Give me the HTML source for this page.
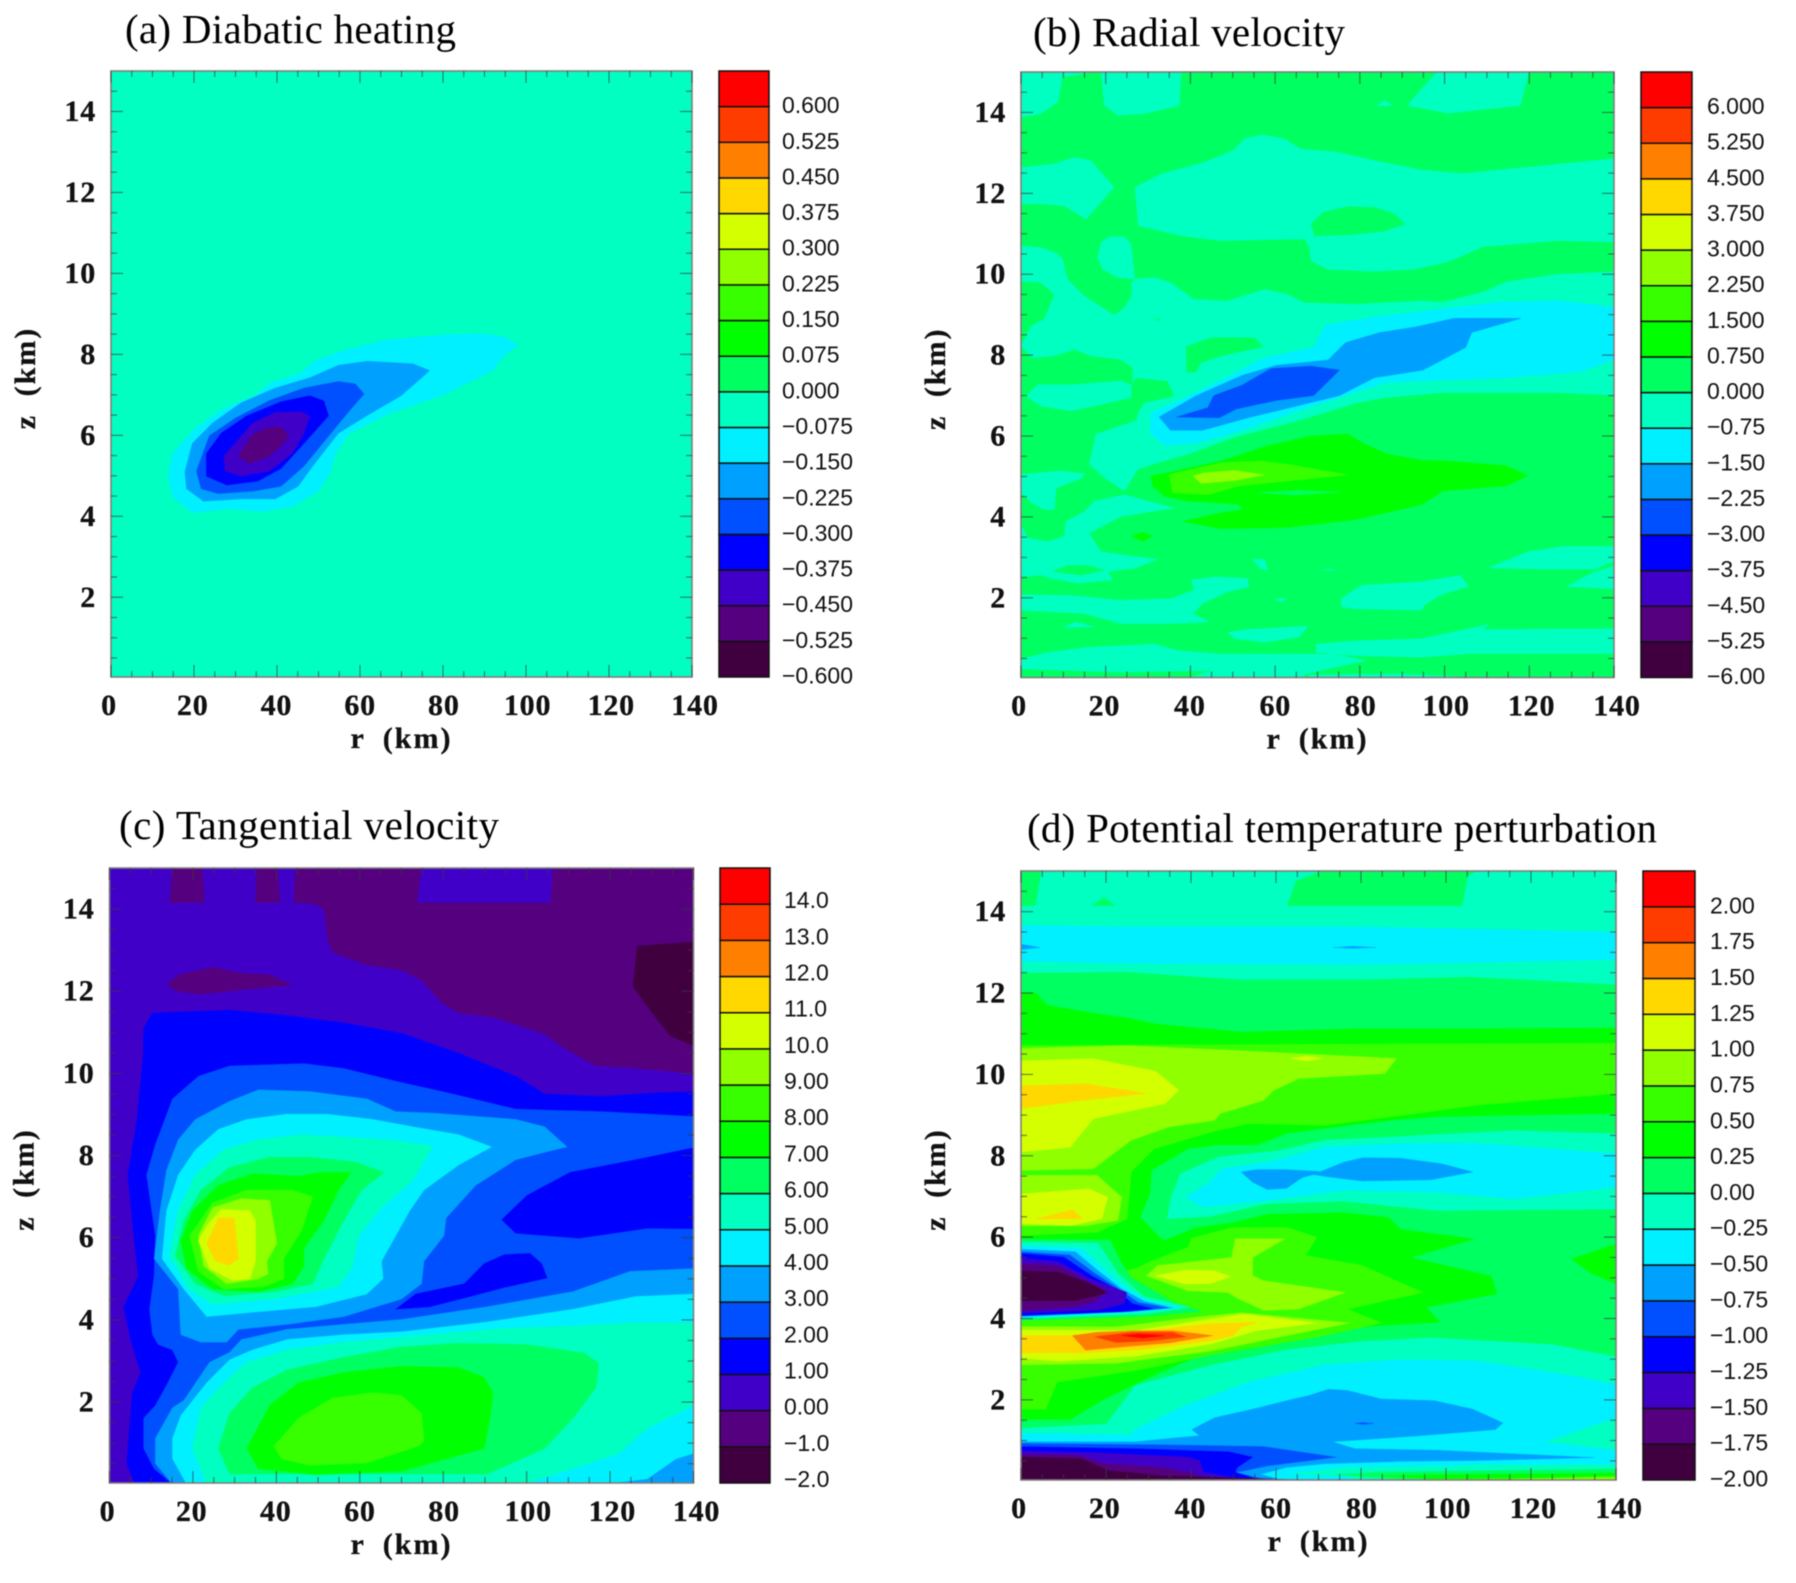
<!DOCTYPE html>
<html lang="en">
<head>
<meta charset="utf-8">
<title>Diabatic heating, radial velocity, tangential velocity and potential temperature perturbation</title>
<style>
html,body{margin:0;padding:0;background:#fff;}
svg{display:block;filter:blur(0.45px);}
.title{font-family:"Liberation Serif",serif;font-size:41px;fill:#000;}
.tick{font-family:"Liberation Serif",serif;font-weight:bold;font-size:30px;fill:#111;stroke:#111;stroke-width:.3px;letter-spacing:.8px;}
.axis{font-family:"Liberation Serif",serif;font-weight:bold;font-size:30px;fill:#111;stroke:#111;stroke-width:.3px;letter-spacing:2px;word-spacing:8px;}
.cb{font-family:"Liberation Sans",sans-serif;font-size:23px;fill:#111;}
</style>
</head>
<body>
<svg id="fig" xmlns="http://www.w3.org/2000/svg" width="1796" height="1583" viewBox="0 0 1796 1583">
<rect x="0" y="0" width="1796" height="1583" fill="#fff"/>
<text class="title" x="125" y="43" textLength="331" lengthAdjust="spacing">(a) Diabatic heating</text>
<text class="title" x="1033" y="46" textLength="312" lengthAdjust="spacing">(b) Radial velocity</text>
<text class="title" x="119" y="839" textLength="380" lengthAdjust="spacing">(c) Tangential velocity</text>
<text class="title" x="1027" y="842" textLength="630" lengthAdjust="spacing">(d) Potential temperature perturbation</text>
</svg>
<script>
// Shared axes
const rTicks = [0, 20, 40, 60, 80, 100, 120, 140];
const zTicks = [2, 4, 6, 8, 10, 12, 14];
const rMin = 0, rMax = 140, zMin = 0.03, zMax = 15;

// Colour of each contour band, lowest band first
const bandColors = ['#400040','#55007f','#4000c8','#0000ff','#0050ff','#00a0ff','#00f0ff','#00ffc0','#00ff60','#00ff00','#38ff00','#90ff00','#d4ff00','#ffd800','#ff8000','#ff3c00','#ff0000'];

// Panel (a) Diabatic heating
const aLevels = [-0.6,-0.525,-0.45,-0.375,-0.3,-0.225,-0.15,-0.075,0,0.075,0.15,0.225,0.3,0.375,0.45,0.525,0.6];
const aLabels = ['\u22120.600','\u22120.525','\u22120.450','\u22120.375','\u22120.300','\u22120.225','\u22120.150','\u22120.075','0.000','0.075','0.150','0.225','0.300','0.375','0.450','0.525','0.600'];
const aBase = -0.075;
const aRegions = [
[-0.15,[98.2,8.23,94.8,8.44,89.2,8.51,79.6,8.48,65.8,8.35,56.1,8.1,49.2,7.85,45.8,7.54,38.2,7.29,34.8,6.98,27.2,6.67,20.3,6.17,14.8,5.55,13.8,4.99,14.8,4.49,19.6,4.09,28.6,4.18,36.8,4.12,43.7,4.24,49.9,4.62,52.7,5.05,54.1,5.55,57.5,6.05,67.2,6.55,79.6,6.98,92,7.6,94.8,7.98]],
[-0.225,[76.8,7.6,72.7,7.77,61.7,7.83,54.8,7.73,47.9,7.42,39.6,7.17,31.3,6.8,24.4,6.3,19.6,5.8,17.8,5.1,18.2,4.68,22.3,4.37,31.3,4.43,39.6,4.43,45.1,4.74,48.6,5.24,54.8,6.05,61.7,6.49,69.9,6.98]],
[-0.3,[61,7.02,58.9,7.27,54.8,7.33,46.5,7.17,38.2,6.86,29.9,6.42,23.7,5.99,20.6,5.12,21.7,4.68,25.8,4.56,34.1,4.62,41,4.74,46.5,5.24,52,5.93,57.5,6.61]],
[-0.375,[52.4,6.48,51.3,6.85,47.9,6.98,41,6.83,32.7,6.48,26.5,6.05,23,5.55,23,4.99,27.9,4.77,35.4,4.87,41,5.18,46.5,5.8]],
[-0.45,[47.9,6.48,45.8,6.58,39.6,6.57,34.1,6.3,27.2,5.49,27.5,5.12,31.3,4.99,38.2,5.12,43.7,5.55,46.5,6.05]],
[-0.525,[42.8,5.99,41,6.2,38.2,6.2,34.1,6.02,30.6,5.49,33.4,5.3,38.2,5.49,41,5.74]]
];

// Panel (b) Radial velocity
const bLevels = [-6,-5.25,-4.5,-3.75,-3,-2.25,-1.5,-0.75,0,0.75,1.5,2.25,3,3.75,4.5,5.25,6];
const bLabels = ['\u22126.00','\u22125.25','\u22124.50','\u22123.75','\u22123.00','\u22122.25','\u22121.50','\u22120.75','0.000','0.750','1.500','2.250','3.000','3.750','4.500','5.250','6.000'];
const bBase = 0;
const bRegions = [
[-0.75,[0,15,17.3,15,9.8,14.88,8.7,14.26,4.7,13.97,0,13.88]],
[-0.75,[18.9,15,37.8,15,37.4,14.17,29.1,13.97,22.8,13.93,19.7,14.17]],
[-0.75,[98.2,15,119.9,15,117.9,14.17,100.9,13.98,91.2,14.17,94.2,14.54]],
[-0.75,[83.9,14.16,85.8,14.3,87.8,14.17]],
[-0.75,[0,12.64,7.9,12.73,12.6,12.89,16.5,12.81,22,12.15,15.4,11.36,10.2,11.69,4.7,11.74,0,11.74]],
[-0.75,[26.9,12.15,33.1,12.48,43.3,12.77,50,13.06,52.8,13.35,56.7,13.45,62.2,13.35,66.1,13.1,74.8,13.02,83.5,12.81,94.5,12.58,104.3,12.49,140,12.86,140,10.8,126.7,10.83,109.1,10.68,100.9,10.31,92.8,10.12,83.5,10.07,72.4,10.12,68.5,10.33,68,10.7,66.9,10.87,47.2,10.83,37.8,10.95,27.7,11.2]],
[0,[68.5,11.24,71.3,11.53,77.2,11.67,83.5,11.65,88.2,11.49,90.7,11.24,85.8,11.07,77.2,10.97,69.3,10.95]],
[-0.75,[18.1,10.41,18.9,10.79,20.9,10.93,24.4,10.93,26,10.74,26.9,9.88,22.8,9.92,19.3,10.12]],
[-0.75,[0,10.7,4.7,10.66,8.7,10.5,9.8,10.37,11,9.88,15,9.46,22,8.99,24.4,9.17,26.1,9.46,26.1,9.81,27.2,9.89,31.5,9.92,35.4,9.79,40.9,9.38,48.8,9.34,53.5,9.5,57.5,9.63,63,9.5,66.9,9.3,78.7,9.26,94.5,9.34,99.6,9.31,109.1,9.56,114.5,9.81,126.7,10,140,10.06,140,7.01,126.7,7.07,99.6,7.07,86.1,6.95,79.3,6.82,65.4,6.38,50.4,5.97,39.4,5.55,32.3,5.34,27.6,5.18,24.4,4.64,19.7,4.97,16.1,5.3,17.7,6.05,27.2,6.38,27.7,6.57,29.1,6.82,36.2,6.98,34.6,7.36,27.2,7.44,26.4,7.31,26.4,7.69,23.6,7.89,16.5,7.98,12.6,8.14,7.9,7.98,2.8,7.93,0,8.22,2.4,8.72,5.5,8.89,7.9,9.5,4.7,9.79,0,9.83]],
[0,[31.5,8.89,33,8.89,32.2,8.85]],
[0,[39,8.21,44.9,8.43,55.1,8.43,57.2,8.21,47.2,7.98,42.5,7.81,41.3,7.58,39.1,7.58]],
[-0.75,[1.2,6.98,3.9,7.27,11.8,7.27,23.6,7.36,26,7.27,26,6.95,18.9,6.78,11.8,6.62,4.7,6.74]],
[-0.75,[0,5.05,9.4,5.14,15,5.07,14.2,4.95,8.3,4.72,7.9,4.18,5.5,4.18,2.4,4.35,0,4.6]],
[-0.75,[0,3.81,1.6,3.48,6.3,3.39,10.2,3.52,10.6,3.89,15,4.14,17.3,4.39,24.4,4.55,36.2,4.22,23.6,4.01,16.1,3.6,18.9,3.14,32.3,2.95,26.8,2.73,20.5,2.65,21.7,2.44,13.4,2.36,7.1,2.48,4.7,2.56,0,2.52]],
[0,[7.6,2.65,11,2.8,15.7,2.8,19.7,2.69,14.2,2.56]],
[-0.75,[0,2.08,11.8,2.06,23.6,1.94,35.4,1.98,40.9,2.19,40.2,2.44,45.7,2.52,53.5,2.48,53.8,2.27,48.8,2.15,42.9,1.86,40.6,1.61,44.5,1.4,35.4,1.36,23.6,1.36,15,1.61,0,1.69]],
[-0.75,[9.8,1.26,13,1.4,17.3,1.28]],
[-0.75,[48.8,1.15,53.5,1.22,67.7,1.3,65.7,1.03,57.5,0.9,50.4,0.99]],
[-0.75,[75.6,1.98,80.3,2.31,94.5,2.4,103.7,2.56,105.7,2.28,99.6,2.09,95.5,1.84,94.5,1.69,78.7,1.73,75.6,1.77]],
[-0.75,[110.4,2.74,119.9,3.15,128,3.27,140,3.27,140,2.9,135.5,2.71,122.6,2.71]],
[-0.75,[128.7,2.28,135.5,2.65,140,2.78,140,2.22]],
[-0.75,[54.6,2.96,57.5,2.94,58.3,2.69,56.7,2.71]],
[-0.75,[70.9,2.69,72.8,2.71,74.4,2.67]],
[-0.75,[59.8,1.98,63,1.98,61.4,1.9]],
[-0.75,[0,0.49,6.3,0.65,15.7,0.78,31.5,0.86,37,0.7,47.2,0.61,69.3,0.61,74,0.61,81.5,0.45,66.9,0.11,66.9,0.04,40.1,0.04,44.9,0.2,23.6,0.16,0,0.24]],
[-0.75,[69.7,0.86,78.7,0.94,94.5,0.99,110.4,1.34,109.1,1.22,140,1.24,140,0.62,106.4,0.62,94.5,0.53,78.7,0.57,74,0.61,69.7,0.65]],
[-0.75,[106.4,0.04,88.8,0.12,68,0.1,68,0.04]],
[-1.5,[140,9.19,126.7,9.35,113.1,9.31,100.9,9.16,83.4,8.94,71.9,8.75,69.1,8.19,57.6,7.94,48.2,7.44,38.7,6.95,30.6,6.57,30.6,6.07,34,5.76,41.4,5.83,52.2,6.14,65.8,6.63,75.2,6.95,86.1,7.32,99.6,7.38,114.5,7.44,132.1,7.59,140,7.88]],
[-2.25,[118.1,8.91,102.3,8.91,92.8,8.69,84.7,8.56,76.6,8.31,72.5,7.88,60.4,7.75,52.2,7.5,41.4,7,32.6,6.47,35.3,6.14,42.8,6.14,53.6,6.45,65.8,6.76,75.2,7,83.4,7.44,94.9,7.63,105,8.19,106.4,8.56]],
[-3,[75.2,7.63,68.5,7.73,59,7.67,52.2,7.26,45.5,7,44.1,6.7,36.7,6.47,46.8,6.45,50.9,6.67,60.4,6.88,69.1,7]],
[0.75,[30.7,5.01,34.6,5.09,47.2,5.38,58,5.75,68.5,6,77.2,6.05,81.1,5.8,86.6,5.55,94.5,5.4,99.6,5.39,114.5,5.27,119.6,5.02,114.5,4.77,99.6,4.64,94.5,4.3,78.7,3.93,63,3.74,47.2,3.71,38.2,3.89,47.2,4.1,52.4,4.18,51.2,4.32,39.4,4.39,33.9,4.51,31.1,4.76]],
[1.5,[77.2,5.04,63,5.3,56.7,5.38,47.2,5.34,35,5.05,35.8,4.6,44.1,4.55,51.2,4.76,63,4.89]],
[0,[55.5,4.6,65.4,4.66,75.6,4.61,64.6,4.54]],
[2.25,[40.6,5.01,43.3,5.09,50.4,5.15,57.5,5.04,50.4,4.9,42.5,4.83]],
[0.75,[26,3.52,28.7,3.62,31.1,3.53,28.7,3.39]]
];

// Panel (c) Tangential velocity
const cLevels = [-2,-1,0,1,2,3,4,5,6,7,8,9,10,11,12,13,14];
const cLabels = ['\u22122.0','\u22121.0','0.00','1.00','2.00','3.00','4.00','5.00','6.00','7.00','8.00','9.00','10.0','11.0','12.0','13.0','14.0'];
const cBase = 0;
const cRegions = [
[-1,[44.6,15,140,15,140,10,124.8,10.14,116.6,10.18,109.1,10.61,104.3,10.96,91.9,11.37,83.7,11.47,79.6,11.72,74.8,12.27,70,12.52,61.7,12.64,53.5,12.95,52.4,13.2,51.4,14,49.4,14.12,44.2,14.16]],
[0,[74.8,15,106.3,15,105.6,14.16,73.8,14.16]],
[-1,[15.1,15,22.2,15,22.8,14.16,14.4,14.16]],
[-1,[35.3,15,40.2,15,40.9,14.16,35,14.16]],
[-1,[13.7,12.15,16.5,12.4,24.7,12.58,31.6,12.44,38.4,12.4,43.9,12.15,32.9,12.05,21.9,11.93,16.5,11.99]],
[-2,[126.5,13.1,140,13.2,140,10.67,134.4,10.92,131,11.35,125.5,12.11]],
[1,[8.2,11.1,10.3,11.47,28.8,11.54,42.5,11.41,56.2,11.23,70,10.98,83.7,10.49,97.4,9.93,104.3,9.5,118,9.44,131.7,9.53,140,9.55,140,0,6.2,0,4.1,0.5,5.5,2.23,7.5,2.72,5.2,3.46,3.4,4.32,6.9,5.06,5.8,6.05,4.4,7.53,6.6,8.88,8,10.36]],
[2,[15.1,9.38,21.3,9.93,28.8,10.18,46.6,10.24,56.2,10.12,68.6,9.81,82.3,9.5,97.4,9.13,118,9.07,140,8.95,140,0,15.1,0,10.7,0.38,8.2,0.87,8.2,1.61,11,1.92,13.7,2.41,16.5,2.97,15.1,3.27,11.7,3.4,10.3,3.64,9.6,4.26,10.7,5.06,11,6.05,8.9,7.53,11,8.27]],
[1,[140,8.19,126.2,7.9,110.4,7.59,100.1,7.03,94,6.44,97.4,6.11,112.5,5.99,128.9,6.23,140,6.22]],
[1,[68.6,4.26,73.4,4.63,85,4.88,89.8,5.37,94.7,5.59,100.8,5.62,103.6,5.37,104.9,5.02,94.7,4.79,86.4,4.57,76.8,4.32]],
[3,[109.7,8.21,104.3,8.7,97.4,8.88,78.2,9.03,68.6,9.07,61.7,9.38,48,9.56,35.7,9.6,28.8,9.32,20.6,8.88,16.5,8.39,13.7,7.65,12.1,6.66,10.7,5.49,16.5,4.75,17.1,3.64,21.9,3.46,28.1,3.46,30.9,3.77,42.5,3.89,56.2,4.08,70,4.51,74.8,4.88,75.4,5.43,80.2,6.05,80.7,6.48,87.8,7.28,97.4,7.9,104.3,8.08]],
[3,[140,5.25,124.8,5.18,111.1,4.69,90.5,4.32,70,4.01,56.2,3.89,42.5,3.77,31.6,3.52,28.8,3.21,24,2.97,17.8,2.04,15.1,1.86,11,1.12,11,0.5,15.1,0,140,0]],
[4,[140,4.63,126.2,4.57,111.1,4.26,90.5,3.95,70,3.71,56.2,3.64,42.5,3.52,34.3,3.27,28.8,3.03,23.3,2.47,17.1,1.67,15.1,1.12,15.1,0.62,18.5,0,119.3,0.02,128.9,0.13,135.8,0.62,140,0.75]],
[5,[140,3.93,124.8,3.93,111.1,3.85,94.7,3.8,76.8,3.64,56.2,3.46,42.5,3.27,32.9,2.97,27.4,2.47,21.9,1.86,19.9,0.87,23.3,0,100.1,0.03,111.1,0.38,122.1,0.75,128.9,1.36,140,1.92]],
[6,[117.3,2.94,113.9,3.19,100.1,3.4,83.7,3.43,70,3.34,56.2,3.09,42.5,2.78,34.3,2.35,28.8,1.73,26.1,0.87,28.8,0.25,90.5,0.25,104.3,0.87,111.1,1.61,116.6,2.35]],
[7,[91.9,2.23,89.8,2.6,83.7,2.84,70,2.87,56.2,2.72,45.3,2.47,38.4,1.92,32.9,0.87,35.7,0.38,49.4,0.23,70,0.32,89.8,0.87,91.2,1.61]],
[8,[75.4,1.05,74.8,1.73,70,2.16,63.1,2.23,53.5,2.1,45.3,1.61,39.4,0.93,41.2,0.62,48,0.46,61.7,0.52,74.1,0.93]],
[4,[91.6,8.21,83.7,8.51,72.7,8.7,63.1,8.88,52.1,9.01,42.5,9.01,32.9,8.88,26.1,8.64,20.6,8.14,16.5,7.53,13.7,6.66,12.6,5.49,17.8,4.75,23.3,4.08,35.7,4.2,49.4,4.32,61.7,4.63,65.6,5,65.2,5.43,68.6,6.05,72,6.66,75.4,7.16,83.7,7.77]],
[5,[77.5,8.23,67.2,8.39,56.2,8.45,46.6,8.51,35.7,8.39,27.4,8.14,20.6,7.53,16.5,6.66,14.4,5.55,19.2,4.75,24.7,4.38,39.8,4.51,54.9,4.81,58.3,5.31,59.7,6.05,65.2,6.73,72.7,7.4]],
[6,[65.8,7.59,59,7.84,48,7.96,38.4,7.96,28.8,7.71,21.9,7.16,17.8,6.42,15.8,5.55,20.6,4.88,27.4,4.59,39.8,4.69,48.7,4.88,51.4,5.49,56.2,6.42,60.4,7.16]],
[7,[57.9,7.59,50.8,7.59,45.3,7.5,34.3,7.56,26.1,7.28,19.9,6.66,17.1,5.92,18.5,5.25,24.7,4.75,35.7,4.69,43.9,4.88,46.6,5.31,46.6,5.74,51.4,6.42,54.9,7.16]],
[8,[48.7,7,43.9,7.16,32.9,7.16,24.7,6.85,19.2,6.05,21.3,5.18,27.4,4.75,37,4.81,41.8,5,41.8,5.49,46,6.17]],
[9,[40.1,5.86,38.4,6.91,31.6,6.95,24.7,6.73,21.3,6.05,22.6,5.31,28.1,4.88,35.7,5,38,5.12,37.7,5.43]],
[10,[35,6.42,33.6,6.66,26.7,6.69,23.3,6.29,21.3,5.92,24,5.25,29.5,4.96,33.6,5,35,5.43]],
[11,[29.9,6.48,26.1,6.48,23.3,5.86,25.4,5.43,28.8,5.33,30.9,5.49,30.2,6.17]]
];

// Panel (d) Potential temperature perturbation
const dLevels = [-2,-1.75,-1.5,-1.25,-1,-0.75,-0.5,-0.25,0,0.25,0.5,0.75,1,1.25,1.5,1.75,2];
const dLabels = ['\u22122.00','\u22121.75','\u22121.50','\u22121.25','\u22121.00','\u22120.75','\u22120.50','\u22120.25','0.00','0.25','0.50','0.75','1.00','1.25','1.50','1.75','2.00'];
const dBase = -0.25;
const dRegions = [
[0,[0,15,4.7,15,3.4,14.15,0,14.15]],
[0,[62.7,14.15,64.7,14.75,69.4,14.94,72,15,107.1,15,105.1,14.88,103.8,14.15]],
[0,[16.8,14.15,19.5,14.35,22.2,14.15]],
[-0.5,[0,13.66,24.9,13.63,78.8,13.63,140,13.5,140,12.82,78.8,12.7,24.9,12.73,0,12.78]],
[-0.75,[0,13.2,2.3,13.16,4.4,13.12,0,13.07]],
[-0.75,[73.5,13.12,78,13.15,83.6,13.12,78,13.1]],
[0,[0,12.49,24.9,12.51,51.9,12.32,78.8,12.32,105.8,12.39,140,12.2,140,3.07,125,3.37,96.4,3.54,80.4,3.45,62.5,3.24,44.6,2.86,26.8,2.36,21.4,1.6,20.1,1.42,0,1.31]],
[0.25,[0,12.01,3.4,12.01,6.1,11.7,16.8,11.51,24.9,11.39,31.7,11.24,51.9,11.04,78.8,11.12,105.8,11.12,140,11.14,140,3.91,98.7,3.91,84.8,3.83,62.5,3.62,44.6,3.2,31.3,2.61,19.6,2.02,11.6,1.52,0,1.52]],
[0.5,[0,10.71,140,10.77,140,9.53,107.1,9.24,89.3,8.99,71.4,8.75,53.6,8.79,44.6,8.58,31.3,8.17,25.9,7.6,25.4,6.98,25,6.45,17.9,6.12,0,6.04]],
[0,[140,9.03,116.1,8.99,98.2,8.95,87.5,8.87,77.7,8.75,62.5,8.54,55.4,8.26,46.4,8.26,39.3,8.17,30.8,7.64,30.4,7.06,28.1,6.49,33.5,5.92,41.1,6.24,50,6.37,58,6.57,75.9,6.61,86.6,6.49,89.3,6.2,107.1,5.96,92,5.5,110.7,5.05,112.1,4.6,95.5,4.27,98.7,3.91,140,3.91]],
[-0.25,[140,8.54,116.1,8.62,93.8,8.5,71.4,8.38,60.7,8.13,46.4,7.97,37.5,7.56,35.3,6.98,34.4,6.45,44.6,6.51,58,6.82,75.9,6.88,98.2,6.65,140,6.69]],
[-0.5,[140,8.05,107.1,8.31,89.3,8.3,71.4,8.21,58,7.84,47.3,7.68,43.8,7.31,38.8,6.98,42.9,6.74,58,6.9,75.9,7.15,98.2,7.1,116.1,6.94,140,7.23]],
[-0.75,[51.8,7.6,55.4,7.66,62.5,7.66,70.5,7.61,75.9,7.84,80.4,7.95,89.3,7.94,99.1,7.8,106.3,7.6,96.4,7.41,80.4,7.38,72.3,7.48,68.8,7.54,66.1,7.46,62.5,7.2,58,7.17,54.5,7.35]],
[0.25,[140,5.83,129.5,5.46,133.9,5.13,140,4.85]],
[0.75,[0,10.64,24.9,10.71,51.9,10.58,88.3,10.39,85.6,10.02,65.4,9.9,59.4,9.61,57.1,9.36,46.9,9.04,45.5,8.87,34.8,8.71,25.9,8.38,17,7.68,0,7.64]],
[1,[0,10.33,16.8,10.39,31.7,10.08,37.1,9.61,33.9,9.28,17,8.91,11.6,8.21,0,8.09]],
[1.25,[0,9.72,15.5,9.77,29.5,9.53,14.3,9.36,0,9.16]],
[1,[63.4,10.39,67.4,10.45,70.8,10.39,67.4,10.33]],
[0.75,[0,7.52,17.9,7.52,23.7,6.98,22.8,6.41,15.2,6.28,0,6.28]],
[1,[0,7.06,16.1,7.19,20.4,6.98,19,6.45,11.6,6.28,0,6.33]],
[1.25,[3.6,6.45,12.1,6.67,14.5,6.45]],
[0.5,[27.7,5.26,30.8,5.42,39.3,5.75,40.2,5.98,50,6.24,62.5,6.24,69.6,6,67,5.55,80.4,5.3,94.6,4.64,76.8,4.23,84.8,3.89,70,3.55,44.6,3.1,26.8,2.72,8.5,2.44,5.8,1.77,0,1.77,0,5,20,5]],
[0.75,[29.5,5.05,32.1,5.3,49.6,5.5,50.4,5.96,62.1,5.96,54.5,5.5,54.5,5.05,57.1,4.93,76.3,4.64,65.2,4.23,57.1,4.2,50.9,4.5,48.7,4.64,39.3,4.68]],
[0.75,[0,3.8,22.3,3.79,42,4.04,51.8,4.14,77.2,3.89,62.5,3.58,44.6,3.2,22.3,2.9,0,2.86]],
[1,[31.7,5.05,38.4,5.19,45.5,5.17,49.4,5.03,44.6,4.86,38.4,4.85]],
[1,[0,3.72,26.8,3.7,42.9,3.96,52.7,4.11,69.6,3.89,55.4,3.7,44.6,3.37,26.8,3.07,8.9,2.95,0,3.03]],
[1.25,[0,3.58,12.1,3.58,31.3,3.72,44.6,3.87,55.8,3.91,51.8,3.79,50,3.58,44.6,3.45,28.6,3.24,15.2,3.16,0,3.16]],
[1.5,[12.1,3.58,17.9,3.66,26.8,3.7,35.7,3.7,45.1,3.58,35,3.4,26.8,3.33,15.2,3.22]],
[1.75,[17.4,3.55,25.9,3.66,35.7,3.66,38.8,3.55,30.4,3.45,22.3,3.41]],
[2,[23.7,3.58,27.7,3.62,33.9,3.58,28.6,3.52]],
[0,[0,5.95,21,5.93,23.4,5.4,26,5,36,4.4,42.5,4.17,29,4.05,0,3.95]],
[-0.25,[0,5.88,18.2,5.85,22.9,5.1,29,4.54,39.8,4.27,29,4.11,0,4]],
[-0.5,[0,5.79,14.2,5.73,19.5,5.23,24.9,4.73,30.3,4.42,38.4,4.26,27.6,4.17,0,4.02]],
[-0.75,[0,5.7,12.8,5.64,18.2,5.17,23.6,4.73,29,4.42,35.7,4.26,26.3,4.17,0,4.05]],
[-1,[0,5.64,11.5,5.56,17.5,5.1,22.9,4.73,27.6,4.39,34.4,4.26,24.9,4.17,0,4.06]],
[-1.25,[0,5.6,10.1,5.51,16.8,5.04,22.2,4.73,26.3,4.36,31,4.24,23.6,4.17,0,4.08]],
[-1.5,[0,5.48,8.8,5.39,16.2,4.98,24.9,4.64,24.3,4.36,18.2,4.21,0,4.13]],
[-1.75,[0,5.35,8.8,5.29,15.5,4.92,20.2,4.67,17.5,4.42,12.8,4.29,0,4.19]],
[-2,[0,5.17,8.8,5.14,15.5,4.89,20.5,4.63,12.8,4.44,0,4.44]],
[-0.5,[140,2.38,128.6,2.61,107.1,2.96,89.3,2.99,71.4,2.86,53.6,2.44,38.4,1.85,26.8,1.27,25.9,1.14,0,1.18,0,0.04,76,0.04,85.6,0.25,105.8,0.41,140,0.41,140,0.76,123.2,0.97,140,1.56]],
[-0.75,[0,0.97,26.8,0.97,42,1.12,40.2,1.27,45.5,1.56,54.5,1.77,62.5,1.98,67.9,2.11,72.3,2.26,76.8,2.23,84.8,2.02,97.3,1.98,106.3,1.77,113.4,1.43,111.6,1.27,93.8,1.12,73.2,0.97,78.6,0.8,98.2,0.76,134.8,0.58,107.1,0.51,89.3,0.49,71.4,0.43,62.5,0.34,56.3,0.17,60.7,0.05,67.9,0.04,0,0.04]],
[-1,[78.6,1.42,80.4,1.44,83,1.42,80.4,1.4]],
[-1,[0,0.93,35.7,0.89,57.1,0.85,74.1,0.59,58,0.38,52.7,0.26,50.4,0.22,57.1,0.05,64.3,0.04,0,0.04]],
[-1.25,[0,0.85,26.8,0.8,49.1,0.72,54.5,0.59,50.9,0.34,50.4,0.22,55.4,0.05,0,0.04]],
[-1.5,[0,0.74,17.9,0.7,39.3,0.59,42,0.51,42.9,0.22,50,0.09,62.5,0.04,0,0.04]],
[-1.75,[0,0.65,13.4,0.64,19.6,0.43,33,0.34,39.3,0.22,44.6,0.05,62.5,0.04,0,0.04]],
[-2,[0,0.59,14.3,0.55,20.5,0.26,33.9,0.13,62.5,0.04,0,0.04]],
[-0.25,[63.4,0.17,75.9,0.33,107.1,0.38,140,0.41,140,0.04,85,0.04,75.9,0.13]],
[0,[74.1,0.16,84.8,0.22,140,0.3,140,0.04,90,0.04]],
[0.25,[84.8,0.13,100,0.16,140,0.2,140,0.04,100,0.04]],
[0.5,[98.2,0.05,125,0.09,140,0.13,140,0.04]],
[0.75,[116,0.05,140,0.09,140,0.04]]
];

const panels = [
  {key:'a', x0:111, x1:692, y0:71, y1:677, cx0:719, cx1:769, labelGap:13, labelShift:0, levels:aLevels, labels:aLabels, base:aBase, regions:aRegions},
  {key:'b', x0:1021, x1:1614, y0:72, y1:677.5, cx0:1641, cx1:1692, labelGap:15, labelShift:0, levels:bLevels, labels:bLabels, base:bBase, regions:bRegions},
  {key:'c', x0:109.5, x1:693.5, y0:868, y1:1483, cx0:720, cx1:770, labelGap:14, labelShift:-2.5, levels:cLevels, labels:cLabels, base:cBase, regions:cRegions},
  {key:'d', x0:1021, x1:1616, y0:871, y1:1480, cx0:1643, cx1:1695, labelGap:15, labelShift:0, levels:dLevels, labels:dLabels, base:dBase, regions:dRegions}
];

const NS = 'http://www.w3.org/2000/svg';
const fig = document.getElementById('fig');

function make(parent, tag, attrs, text) {
  const el = document.createElementNS(NS, tag);
  for (const k in attrs) el.setAttribute(k, attrs[k]);
  if (text !== undefined) el.textContent = text;
  parent.appendChild(el);
  return el;
}
function xScale(p, r) { return p.x0 + (r - rMin) / (rMax - rMin) * (p.x1 - p.x0); }
function yScale(p, z) { return p.y1 - (z - zMin) / (zMax - zMin) * (p.y1 - p.y0); }
function bandOf(p, level) {
  let best = 0, diff = Infinity;
  p.levels.forEach(function (v, i) {
    const d = Math.abs(v - level);
    if (d < diff) { diff = d; best = i; }
  });
  return bandColors[best];
}

panels.forEach(function (p) {
  const group = make(fig, 'g', {});
  
  

  const clip = make(group, 'clipPath', {id: 'clip-' + p.key});
  make(clip, 'rect', {x: p.x0, y: p.y0, width: p.x1 - p.x0, height: p.y1 - p.y0});

  const field = make(group, 'g', {'clip-path': 'url(#clip-' + p.key + ')'});
  
  

  const baseRect = make(field, 'rect', {x: p.x0, y: p.y0, width: p.x1 - p.x0, height: p.y1 - p.y0, fill: bandOf(p, p.base)});
  
  

  p.regions.forEach(function (region) {
    const level = region[0], pts = region[1];
    const out = [];
    for (let i = 0; i < pts.length; i += 2) {
      out.push(xScale(p, pts[i]).toFixed(1) + ',' + yScale(p, pts[i + 1]).toFixed(1));
    }
    const color = bandOf(p, level);
    const poly = make(field, 'polygon', {points: out.join(' '), fill: color, stroke: color, 'stroke-width': 0.4, 'stroke-linejoin': 'round'});
    
    
  });

  const frame = make(group, 'rect', {x: p.x0, y: p.y0, width: p.x1 - p.x0, height: p.y1 - p.y0, fill: 'none', stroke: '#808080', 'stroke-width': 1.6});
  
  

  const ticks = make(group, 'g', {stroke: '#3a3a3a', 'stroke-width': 1, 'stroke-opacity': 0.75});
  
  
  for (let r = rMin; r <= rMax; r += 5) {
    const len = r % 20 === 0 ? 12 : 6;
    const x = xScale(p, r);
    make(ticks, 'line', {x1: x, x2: x, y1: p.y1, y2: p.y1 - len});
    make(ticks, 'line', {x1: x, x2: x, y1: p.y0, y2: p.y0 + len});
  }
  for (let z = 0.5; z < zMax; z += 0.5) {
    const len = z % 2 === 0 ? 12 : 6;
    const y = yScale(p, z);
    make(ticks, 'line', {x1: p.x0, x2: p.x0 + len, y1: y, y2: y});
    make(ticks, 'line', {x1: p.x1, x2: p.x1 - len, y1: y, y2: y});
  }

  rTicks.forEach(function (v) {
    const t = make(group, 'text', {class: 'tick', x: xScale(p, v) - 2 + 5 * v / rMax, y: p.y1 + 38, 'text-anchor': 'middle'}, String(v));
    
    
  });
  zTicks.forEach(function (v) {
    const t = make(group, 'text', {class: 'tick', x: p.x0 - 15, y: yScale(p, v) + 9.5, 'text-anchor': 'end'}, String(v));
    
    
  });

  const xTitle = make(group, 'text', {class: 'axis', x: (p.x0 + p.x1) / 2, y: p.y1 + 71, 'text-anchor': 'middle'}, 'r (km)');
  
  

  const ty = (p.y0 + p.y1) / 2 + 4;
  const tx = p.x0 - 76;
  const yTitle = make(group, 'text', {class: 'axis', x: tx, y: ty, 'text-anchor': 'middle', transform: 'rotate(-90 ' + tx + ' ' + ty + ')'}, 'z (km)');
  
  

  const bar = make(group, 'g', {});
  
  
  const n = p.levels.length;
  const h = (p.y1 - p.y0) / n;
  p.levels.forEach(function (v, i) {
    const yBottom = p.y1 - i * h;
    const seg = make(bar, 'rect', {x: p.cx0, y: yBottom - h, width: p.cx1 - p.cx0, height: h, fill: bandOf(p, v), stroke: '#111', 'stroke-width': 1.5});
    
    
    const lab = make(bar, 'text', {class: 'cb', x: p.cx1 + p.labelGap, y: yBottom + 6.5 + p.labelShift}, p.labels[i]);
    
    
  });
});
</script>
</body>
</html>
